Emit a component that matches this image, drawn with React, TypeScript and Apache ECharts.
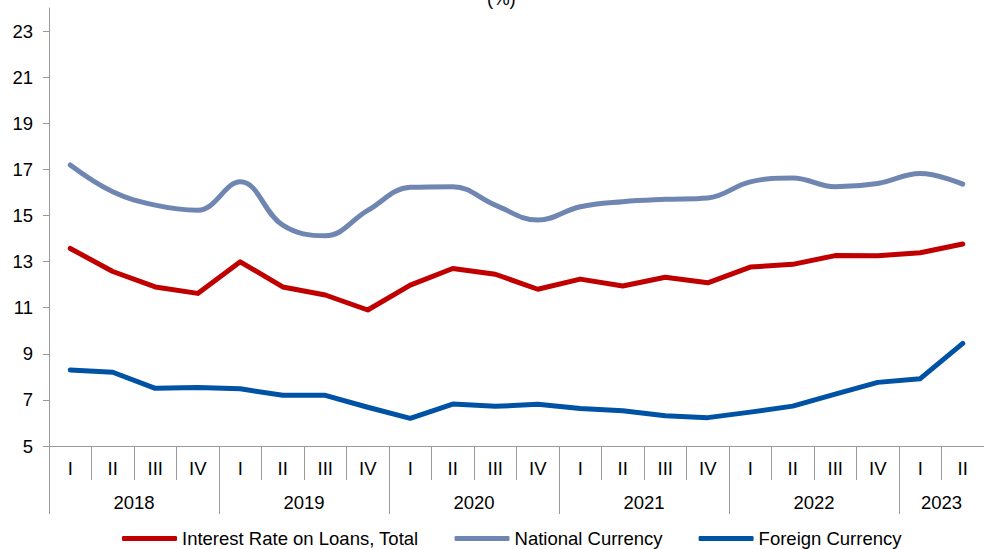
import React, { useEffect, useRef } from "react";
import * as echarts from "echarts";

const quarters = ["I", "II", "III", "IV", "I", "II", "III", "IV", "I", "II", "III", "IV", "I", "II", "III", "IV", "I", "II", "III", "IV", "I", "II"];
const yearLabels = ["", "2018", "", "", "", "2019", "", "", "", "2020", "", "", "", "2021", "", "", "", "2022", "", "", "2023", ""];
const yearLabelIdx = [1, 5, 9, 13, 17, 20];
const yearStartIdx = [0, 4, 8, 12, 16, 20];
const yTicks = [5, 7, 9, 11, 13, 15, 17, 19, 21, 23];

const totalRate = [13.57, 12.57, 11.9, 11.62, 12.99, 11.9, 11.55, 10.9, 11.98, 12.7, 12.45, 11.8, 12.24, 11.94, 12.32, 12.08, 12.76, 12.88, 13.26, 13.25, 13.38, 13.76];
const nationalCur = [17.19, 16.03, 15.45, 15.23, 16.46, 14.58, 14.12, 15.22, 16.22, 16.25, 15.45, 14.8, 15.38, 15.6, 15.7, 15.76, 16.46, 16.63, 16.25, 16.39, 16.82, 16.36];
const foreignCur = [8.3, 8.2, 7.5, 7.54, 7.48, 7.2, 7.2, 6.68, 6.2, 6.82, 6.72, 6.81, 6.63, 6.53, 6.31, 6.23, 6.47, 6.73, 7.25, 7.76, 7.92, 9.45];

const seriesNames = ["Interest Rate on Loans, Total", "National Currency", "Foreign Currency"];
const colors = ["#C00000", "#7086B2", "#0052A5"];

const FONT = "'Liberation Sans', Arial, sans-serif";
const FS = 18.5;
const AXIS_GRAY = "#9a9a9a";

export default function App() {
  const ref = useRef<HTMLDivElement>(null);
  useEffect(() => {
    if (!ref.current) return;
    const chart = echarts.init(ref.current, undefined, { renderer: "svg" });
    const band = 938 / quarters.length;
    const mk = (name: string, data: number[], color: string, smooth: number | boolean) => ({
      name,
      type: "line",
      data,
      xAxisIndex: 0,
      yAxisIndex: 0,
      smooth,
      symbol: "none",
      lineStyle: { color, width: 5, cap: "round", join: "round" },
      itemStyle: { color },
    });
    chart.setOption({
      animation: false,
      textStyle: { fontFamily: FONT },
      title: {
        text: "(%)",
        left: 482,
        top: -16,
        textStyle: { fontFamily: FONT, fontSize: FS, fontWeight: "normal", color: "#000" },
      },
      grid: { left: 49, top: 8, width: 938, height: 438 },
      legend: {
        left: 122,
        top: 529,
        padding: 0,
        itemWidth: 55,
        itemHeight: 5,
        itemGap: 36,
        icon: "roundRect",
        textStyle: { fontFamily: FONT, fontSize: FS, color: "#000" },
        data: seriesNames,
      },
      xAxis: [
        {
          type: "category",
          data: quarters,
          position: "bottom",
          axisLine: { show: true, lineStyle: { color: AXIS_GRAY, width: 1 } },
          axisTick: { show: true, interval: 0, length: 34, lineStyle: { color: AXIS_GRAY } },
          axisLabel: { interval: 0, margin: 13, fontSize: FS, color: "#000", fontFamily: FONT },
          splitLine: { show: false },
        },
        {
          type: "category",
          data: yearLabels,
          position: "bottom",
          axisLine: { show: false },
          axisTick: {
            show: true,
            interval: (i: number) => yearStartIdx.includes(i),
            length: 68,
            lineStyle: { color: AXIS_GRAY },
          },
          axisLabel: {
            interval: (i: number) => yearLabelIdx.includes(i),
            margin: 47,
            fontSize: FS,
            color: "#000",
            fontFamily: FONT,
            padding: [0, 0, 0, band],
          },
          splitLine: { show: false },
        },
      ],
      yAxis: {
        type: "value",
        min: 5,
        max: 24,
        interval: 2,
        axisLine: { show: true, lineStyle: { color: AXIS_GRAY, width: 1 } },
        axisTick: { show: true, length: 6, lineStyle: { color: AXIS_GRAY }, customValues: yTicks },
        axisLabel: { margin: 16, fontSize: FS, color: "#000", fontFamily: FONT, customValues: yTicks },
        splitLine: { show: false },
      },
      series: [
        mk(seriesNames[0], totalRate, colors[0], false),
        mk(seriesNames[1], nationalCur, colors[1], 0.4),
        mk(seriesNames[2], foreignCur, colors[2], false),
      ],
    });
    return () => chart.dispose();
  }, []);
  return (
    <div
      ref={ref}
      style={{ position: "fixed", left: 0, top: 0, width: 984, height: 549, background: "#fff" }}
    />
  );
}
